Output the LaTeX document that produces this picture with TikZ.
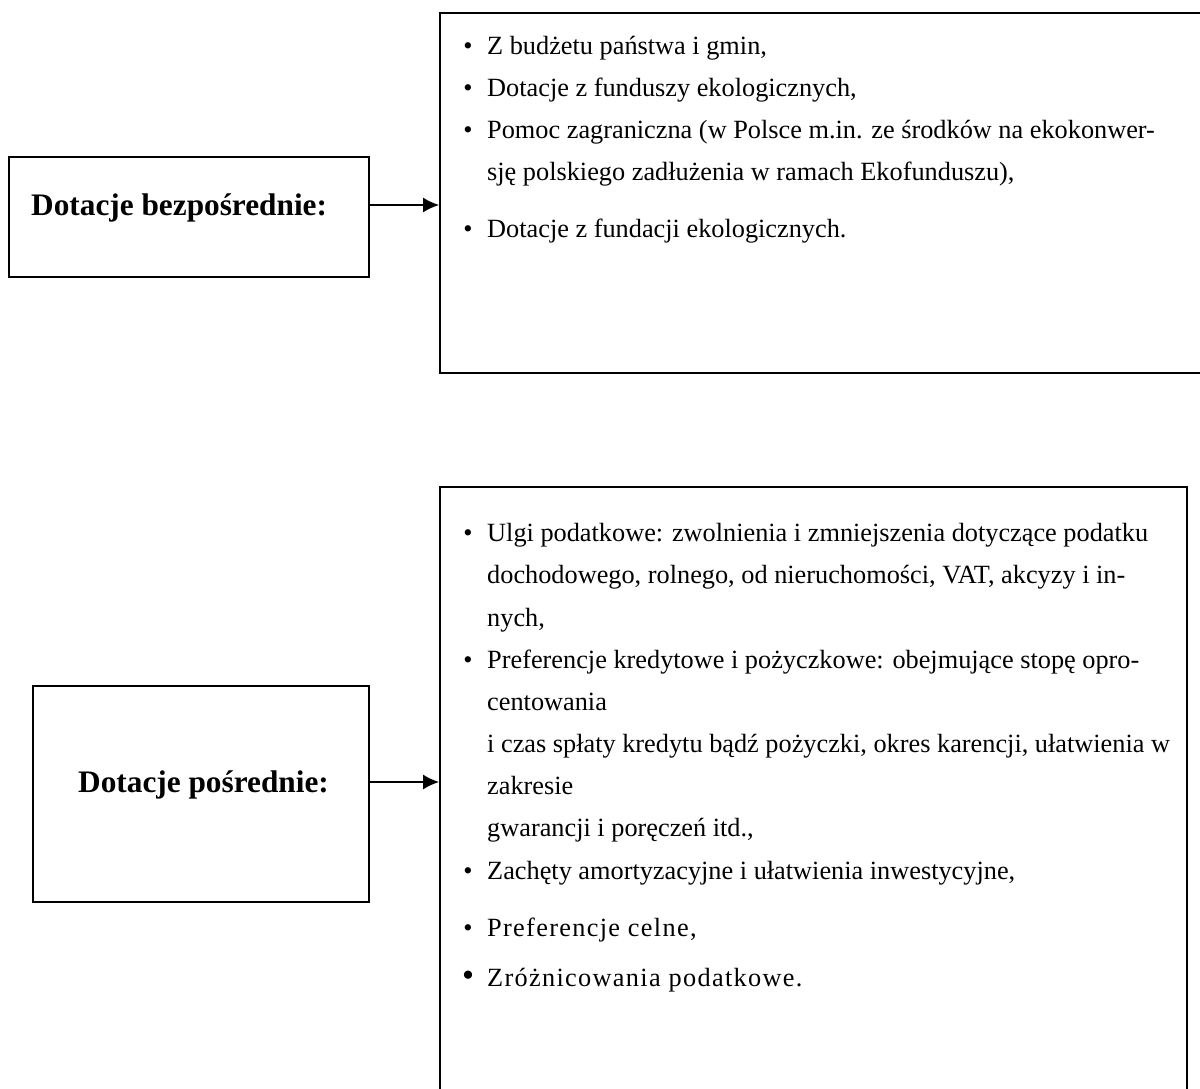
\documentclass[tikz,border=0pt]{standalone}
\usepackage{fontspec}
\setmainfont{Liberation Serif}
\newfontfamily\spacedfont[LetterSpace=5]{Liberation Serif}
\usetikzlibrary{arrows.meta}
\begin{document}
\begin{tikzpicture}[x=1pt,y=-1pt,
  frame/.style={draw, line width=1.8pt, rectangle, inner sep=0pt},
  arr/.style={line width=1.8pt, -{Latex[length=16pt,width=15pt]}},
  txt/.style={inner sep=0pt, anchor=base west, font=\fontsize{26.3pt}{30pt}\selectfont},
  sptxt/.style={inner sep=0pt, anchor=base west, font=\fontsize{26.3pt}{30pt}\spacedfont},
  bul/.style={inner sep=0pt, anchor=base, font=\fontsize{26.3pt}{30pt}\selectfont},
  lbl/.style={inner sep=0pt, anchor=base west, font=\fontsize{31.3pt}{34pt}\selectfont\bfseries}]
\useasboundingbox (0,0) rectangle (1200,1089);
% boxes
\node[frame, minimum width=360pt, minimum height=120pt] (b1) at (189,217) {};
\node[frame, minimum width=770pt, minimum height=360pt] (r1) at (825,193) {};
\node[frame, minimum width=336pt, minimum height=216pt] (b2) at (201,794) {};
\node[frame, minimum width=747pt, minimum height=630pt] (r2) at (813.5,802) {};
% labels
\node[lbl] (l1) at (31,215) {Dotacje bezpośrednie:};
\node[lbl] (l2) at (78,792) {Dotacje pośrednie:};
% arrows
\draw[arr] ([yshift=12pt]b1.east) -- ([yshift=12pt]b1.east -| r1.west);
\draw[arr] ([yshift=12pt]b2.east) -- ([yshift=12pt]b2.east -| r2.west);
% top list
\node[bul] (p1) at (468,55) {•};
\node[txt] (a1) at (487,55) {Z budżetu państwa i gmin,};
\node[bul] (p2) at (468,97) {•};
\node[txt] (a2) at (487,97) {Dotacje z funduszy ekologicznych,};
\node[bul] (p3) at (468,139) {•};
\node[txt] (a3) at (487,139) {Pomoc zagraniczna (w Polsce m.in. ze środków na ekokonwer-};
\node[txt] (a4) at (487,181) {sję polskiego zadłużenia w ramach Ekofunduszu),};
\node[bul] (p4) at (468,237) {•};
\node[txt] (a5) at (487,237) {Dotacje z fundacji ekologicznych.};
% bottom list
\node[bul] (q1) at (468,541) {•};
\node[txt] (c1) at (487,541) {Ulgi podatkowe: zwolnienia i zmniejszenia dotyczące podatku};
\node[txt] (c2) at (487,583) {dochodowego, rolnego, od nieruchomości, VAT, akcyzy i in-};
\node[txt] (c3) at (487,626) {nych,};
\node[bul] (q2) at (468,668) {•};
\node[txt] (c4) at (487,668) {Preferencje kredytowe i pożyczkowe: obejmujące stopę opro-};
\node[txt] (c5) at (487,710) {centowania};
\node[txt] (c6) at (487,752) {i czas spłaty kredytu bądź pożyczki, okres karencji, ułatwienia w};
\node[txt] (c7) at (487,794) {zakresie};
\node[txt] (c8) at (487,836) {gwarancji i poręczeń itd.,};
\node[bul] (q3) at (468,879) {•};
\node[txt] (c9) at (487,879) {Zachęty amortyzacyjne i ułatwienia inwestycyjne,};
\node[bul] (q4) at (468,936) {•};
\node[sptxt] (c10) at (487,936) {Preferencje celne,};
\node[bul] (q5) at (468,986) {\scalebox{1.3}{•}};
\node[sptxt] (c11) at (487,986) {Zróżnicowania podatkowe.};
\end{tikzpicture}
\end{document}
